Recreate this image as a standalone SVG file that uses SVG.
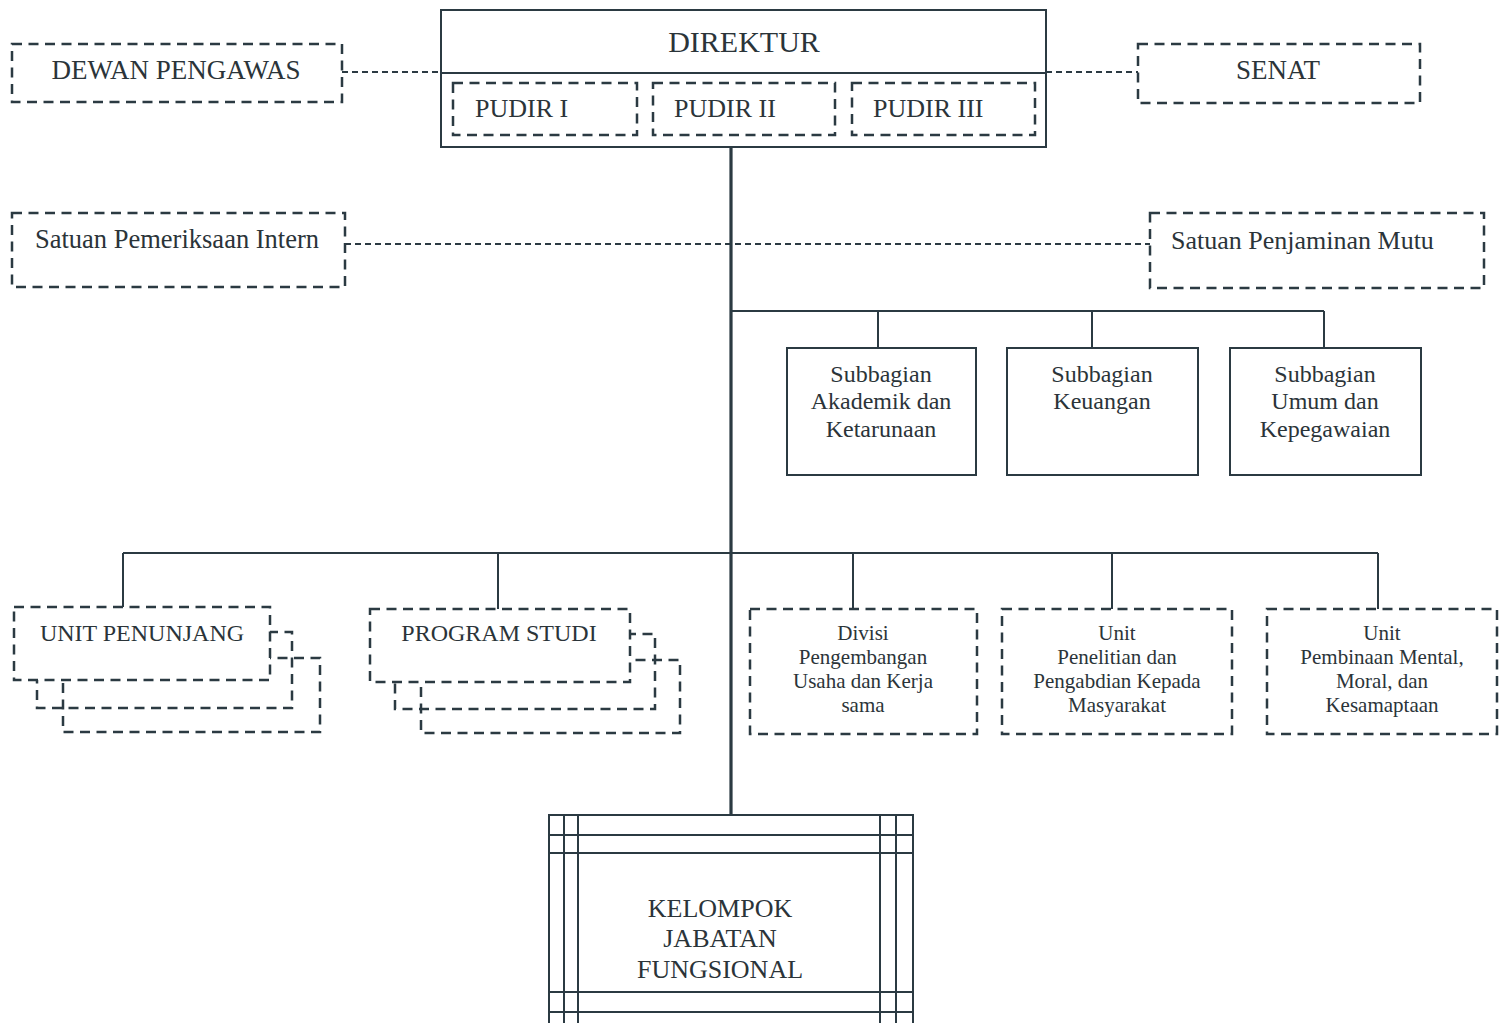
<svg xmlns="http://www.w3.org/2000/svg" width="1505" height="1023" viewBox="0 0 1505 1023">
<style>
text{font-family:"Liberation Serif","Times New Roman",serif;fill:#2b3439;}
.solid{fill:#fff;stroke:#2b3a42;stroke-width:2;}
.dash{fill:none;stroke:#2b3a42;stroke-width:2.5;stroke-dasharray:10 6.5;}
.dashw{fill:#fff;stroke:#2b3a42;stroke-width:2.5;stroke-dasharray:10 6.5;}
.conn{fill:none;stroke:#2b3a42;stroke-width:2;}
.connd{fill:none;stroke:#2b3a42;stroke-width:1.8;stroke-dasharray:6 4;}
.t27{font-size:27px;text-anchor:middle;}
.t26{font-size:26px;text-anchor:middle;}
.t24{font-size:24px;text-anchor:middle;}
.t23{font-size:24px;text-anchor:middle;}
.t21{font-size:21px;text-anchor:middle;}
</style>
<rect width="1505" height="1023" fill="#fff"/>
<g id="connectors">
<line class="connd" x1="342" y1="72" x2="441" y2="72"/>
<line class="connd" x1="1046" y1="72" x2="1138" y2="72"/>
<line class="connd" x1="345" y1="244" x2="1150" y2="244"/>
<line x1="731" y1="147" x2="731" y2="815" stroke="#2b3a42" stroke-width="3.2"/>
<polyline class="conn" points="731,311 1324,311"/>
<line class="conn" x1="878" y1="311" x2="878" y2="348"/>
<line class="conn" x1="1092" y1="311" x2="1092" y2="348"/>
<line class="conn" x1="1324" y1="311" x2="1324" y2="348"/>
<line class="conn" x1="123" y1="553" x2="1378" y2="553"/>
<line class="conn" x1="123" y1="553" x2="123" y2="607"/>
<line class="conn" x1="498" y1="553" x2="498" y2="609"/>
<line class="conn" x1="853" y1="553" x2="853" y2="609"/>
<line class="conn" x1="1112" y1="553" x2="1112" y2="609"/>
<line class="conn" x1="1378" y1="553" x2="1378" y2="609"/>
</g>
<g id="direktur">
<rect class="solid" x="441" y="10" width="605" height="137"/>
<line x1="441" y1="73" x2="1046" y2="73" stroke="#2b3a42" stroke-width="2"/>
<text x="744" y="52" style="font-size:30px;text-anchor:middle">DIREKTUR</text>
</g>
<g id="pudir1">
<rect class="dash" x="453" y="83" width="184" height="52"/>
<text x="475" y="117" font-size="26">PUDIR I</text>
</g>
<g id="pudir2">
<rect class="dash" x="653" y="83" width="182" height="52"/>
<text x="674" y="117" font-size="26">PUDIR II</text>
</g>
<g id="pudir3">
<rect class="dash" x="852" y="83" width="183" height="52"/>
<text x="873" y="117" font-size="26">PUDIR III</text>
</g>
<g id="dewan-pengawas">
<rect class="dash" x="12" y="44" width="330" height="58"/>
<text class="t27" x="176" y="79">DEWAN PENGAWAS</text>
</g>
<g id="senat">
<rect class="dash" x="1138" y="44" width="282" height="59"/>
<text class="t27" x="1278" y="79">SENAT</text>
</g>
<g id="spi">
<rect class="dash" x="12" y="213" width="333" height="74"/>
<text x="35" y="248" font-size="26.5">Satuan Pemeriksaan Intern</text>
</g>
<g id="spm">
<rect class="dash" x="1150" y="213" width="334" height="75"/>
<text x="1171" y="249" font-size="26">Satuan Penjaminan Mutu</text>
</g>
<g id="sub-akademik">
<rect class="solid" x="787" y="348" width="189" height="127"/>
<text class="t23" x="881" y="382">Subbagian</text>
<text class="t23" x="881" y="409">Akademik dan</text>
<text class="t23" x="881" y="437">Ketarunaan</text>
</g>
<g id="sub-keuangan">
<rect class="solid" x="1007" y="348" width="191" height="127"/>
<text class="t23" x="1102" y="382">Subbagian</text>
<text class="t23" x="1102" y="409">Keuangan</text>
</g>
<g id="sub-umum">
<rect class="solid" x="1230" y="348" width="191" height="127"/>
<text class="t23" x="1325" y="382">Subbagian</text>
<text class="t23" x="1325" y="409">Umum dan</text>
<text class="t23" x="1325" y="437">Kepegawaian</text>
</g>
<g id="unit-penunjang">
<rect class="dash" x="63" y="658" width="257" height="74"/>
<rect class="dash" x="37" y="632" width="255" height="76"/>
<rect class="dashw" x="14" y="607" width="256" height="73"/>
<text class="t24" x="142" y="641">UNIT PENUNJANG</text>
</g>
<g id="program-studi">
<rect class="dash" x="421" y="660" width="259" height="73"/>
<rect class="dash" x="395" y="634" width="260" height="75"/>
<rect class="dashw" x="370" y="609" width="260" height="73"/>
<text class="t24" x="499" y="641">PROGRAM STUDI</text>
</g>
<g id="divisi">
<rect class="dash" x="750" y="609" width="227" height="125"/>
<text class="t21" x="863" y="640">Divisi</text>
<text class="t21" x="863" y="664">Pengembangan</text>
<text class="t21" x="863" y="688">Usaha dan Kerja</text>
<text class="t21" x="863" y="712">sama</text>
</g>
<g id="unit-penelitian">
<rect class="dash" x="1002" y="609" width="230" height="125"/>
<text class="t21" x="1117" y="640">Unit</text>
<text class="t21" x="1117" y="664">Penelitian dan</text>
<text class="t21" x="1117" y="688">Pengabdian Kepada</text>
<text class="t21" x="1117" y="712">Masyarakat</text>
</g>
<g id="unit-pembinaan">
<rect class="dash" x="1267" y="609" width="230" height="125"/>
<text class="t21" x="1382" y="640">Unit</text>
<text class="t21" x="1382" y="664">Pembinaan Mental,</text>
<text class="t21" x="1382" y="688">Moral, dan</text>
<text class="t21" x="1382" y="712">Kesamaptaan</text>
</g>
<g id="kelompok-jabatan-fungsional" stroke="#2b3a42" stroke-width="2">
<rect x="549" y="815" width="364" height="215" fill="#fff"/>
<line x1="564" y1="815" x2="564" y2="1023"/>
<line x1="578" y1="815" x2="578" y2="1023"/>
<line x1="880" y1="815" x2="880" y2="1023"/>
<line x1="896" y1="815" x2="896" y2="1023"/>
<line x1="549" y1="835" x2="913" y2="835"/>
<line x1="549" y1="853" x2="913" y2="853"/>
<line x1="549" y1="992" x2="913" y2="992"/>
<line x1="549" y1="1012" x2="913" y2="1012"/>
<text class="t26" x="720" y="917" stroke="none">KELOMPOK</text>
<text class="t26" x="720" y="947" stroke="none">JABATAN</text>
<text class="t26" x="720" y="978" stroke="none">FUNGSIONAL</text>
</g>
</svg>
